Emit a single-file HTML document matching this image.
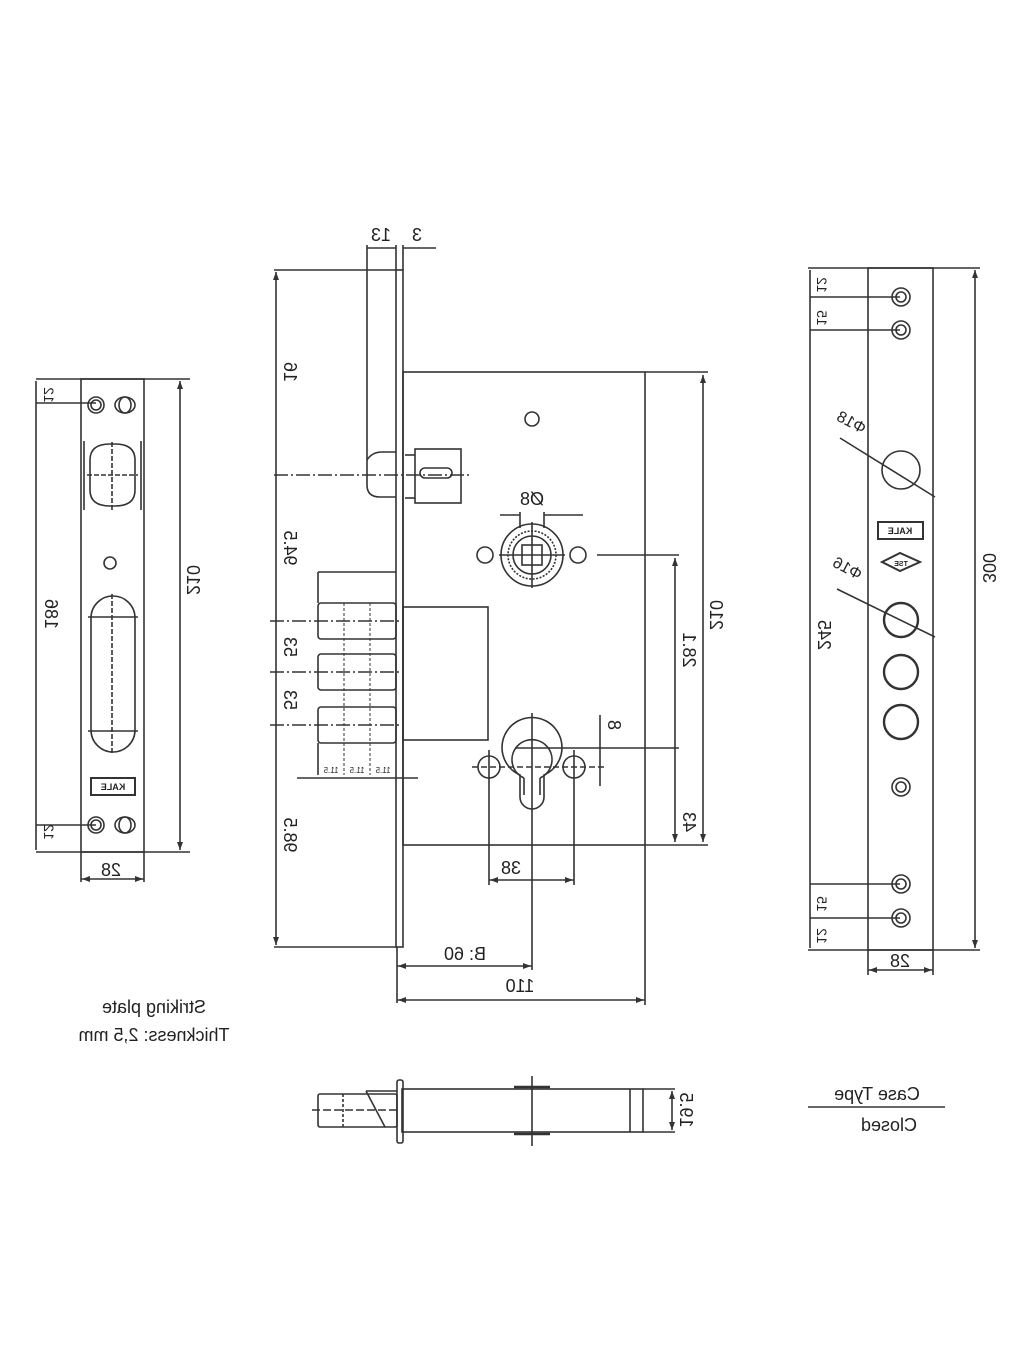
<!DOCTYPE html>
<html><head><meta charset="utf-8"><style>
html,body{margin:0;padding:0;background:#fff;}
svg{display:block;}
text{font-family:"Liberation Sans",sans-serif;fill:#222;}
</style></head><body>
<svg width="1024" height="1365" viewBox="0 0 1024 1365" xmlns="http://www.w3.org/2000/svg">
<g fill="none" stroke="#333" stroke-width="1.6">
<rect x="396" y="270" width="7" height="677"/>
<rect x="403" y="372" width="242" height="473"/>
<line x1="645" y1="372" x2="708" y2="372"/>
<line x1="645" y1="845" x2="708" y2="845"/>
<line x1="703" y1="375" x2="703" y2="842"/>
<line x1="645" y1="845" x2="645" y2="1005"/>
<path d="M367 270 V485 Q367 497 380 497 H396"/>
<path d="M367 460 Q372 452 382 452 H396"/>
<rect x="415" y="449" width="46" height="54"/>
<line x1="405" y1="455" x2="415" y2="455"/><line x1="405" y1="498" x2="415" y2="498"/>
<rect x="420" y="468" width="32" height="10" rx="5"/>
<line x1="274" y1="475" x2="470" y2="475" stroke-dasharray="14 3 2 3"/>
<line x1="367" y1="245" x2="367" y2="270"/><line x1="396" y1="245" x2="396" y2="270"/><line x1="403" y1="245" x2="403" y2="270"/>
<line x1="367" y1="248" x2="396" y2="248"/><line x1="403" y1="248" x2="436" y2="248"/>
<line x1="274" y1="270" x2="396" y2="270"/>
<line x1="274" y1="947" x2="396" y2="947"/>
<line x1="276" y1="272" x2="276" y2="945"/>
<line x1="270" y1="621" x2="400" y2="621" stroke-dasharray="14 3 2 3"/>
<line x1="270" y1="672" x2="400" y2="672" stroke-dasharray="14 3 2 3"/>
<line x1="270" y1="725" x2="400" y2="725" stroke-dasharray="14 3 2 3"/>
<circle cx="532" cy="419" r="7"/>
<circle cx="532" cy="555" r="31"/>
<circle cx="532" cy="555" r="24" stroke-dasharray="2 1.5"/>
<circle cx="532" cy="555" r="19"/>
<rect x="522" y="545" width="20" height="20"/>
<line x1="532" y1="522" x2="532" y2="588"/><line x1="499" y1="555" x2="565" y2="555"/>
<circle cx="485" cy="555" r="8"/><circle cx="578" cy="555" r="8"/>
<line x1="520" y1="512" x2="520" y2="528"/><line x1="544" y1="512" x2="544" y2="528"/>
<line x1="500" y1="515" x2="520" y2="515"/><line x1="544" y1="515" x2="583" y2="515"/>
<line x1="597" y1="555" x2="679" y2="555"/>
<line x1="675" y1="558" x2="675" y2="842"/>
<line x1="318" y1="572" x2="396" y2="572"/>
<line x1="318" y1="572" x2="318" y2="603"/>
<rect x="318" y="603" width="78" height="36" rx="3"/>
<rect x="318" y="654" width="78" height="36" rx="3"/>
<rect x="318" y="707" width="78" height="36" rx="3"/>
<g stroke-dasharray="3 2" stroke-width="1"><line x1="344" y1="603" x2="344" y2="775"/><line x1="370" y1="603" x2="370" y2="775"/></g>
<line x1="318" y1="743" x2="318" y2="775"/>
<line x1="297" y1="778" x2="418" y2="778"/>
<rect x="403" y="607" width="85" height="133"/>
<path d="M520 797 V775 A30 30 0 1 1 544 775 V797 A12 12 0 0 1 520 797 Z"/>
<path d="M524 778 A20 20 0 1 1 540 778"/>
<line x1="524" y1="778" x2="524" y2="795"/><line x1="540" y1="778" x2="540" y2="795"/>
<line x1="532" y1="713" x2="532" y2="970"/>
<line x1="515" y1="748" x2="600" y2="748"/>
<circle cx="489" cy="767" r="11"/><circle cx="574" cy="767" r="11"/>
<line x1="472" y1="767" x2="605" y2="767" stroke-dasharray="6 3"/>
<line x1="489" y1="750" x2="489" y2="885"/><line x1="574" y1="750" x2="574" y2="885"/>
<line x1="600" y1="715" x2="600" y2="786"/>
<line x1="600" y1="748" x2="679" y2="748"/>
<line x1="489" y1="880" x2="574" y2="880"/>
<line x1="397" y1="947" x2="397" y2="1003"/>
<line x1="397" y1="966" x2="532" y2="966"/>
<line x1="397" y1="1000" x2="645" y2="1000"/>
<rect x="81" y="379" width="63" height="473"/>
<line x1="36" y1="379" x2="190" y2="379"/><line x1="36" y1="852" x2="190" y2="852"/>
<line x1="180" y1="381" x2="180" y2="850"/>
<line x1="36" y1="381" x2="36" y2="850"/>
<line x1="36" y1="403" x2="96" y2="403"/><line x1="36" y1="825" x2="96" y2="825"/>
<circle cx="96" cy="405" r="8"/><circle cx="96" cy="405" r="5"/>
<ellipse cx="125" cy="405" rx="10" ry="8"/><ellipse cx="125" cy="405" rx="6" ry="8"/>
<circle cx="96" cy="825" r="8"/><circle cx="96" cy="825" r="5"/>
<ellipse cx="125" cy="825" rx="10" ry="8"/><ellipse cx="125" cy="825" rx="6" ry="8"/>
<path d="M90 460 Q90 444 110 444 H115 Q135 444 135 460 V490 Q135 506 115 506 H110 Q90 506 90 490 Z"/>
<line x1="84" y1="441" x2="84" y2="510"/><line x1="141" y1="441" x2="141" y2="510"/>
<line x1="87" y1="475" x2="138" y2="475" stroke-dasharray="5 2"/>
<line x1="112" y1="442" x2="112" y2="510" stroke-dasharray="5 2"/>
<circle cx="110" cy="563" r="6"/>
<path d="M91 618 A22 22 0 0 1 135 618 V730 A22 22 0 0 1 91 730 Z"/>
<line x1="88" y1="617" x2="138" y2="617"/><line x1="88" y1="731" x2="138" y2="731"/>
<line x1="112" y1="594" x2="112" y2="754" stroke-dasharray="5 2"/>
<rect x="91" y="778" width="44" height="17" stroke-width="2"/>
<line x1="81" y1="852" x2="81" y2="882"/><line x1="144" y1="852" x2="144" y2="882"/>
<line x1="81" y1="879" x2="144" y2="879"/>
<rect x="868" y="268" width="65" height="682"/>
<line x1="808" y1="268" x2="980" y2="268"/><line x1="808" y1="950" x2="980" y2="950"/>
<line x1="975" y1="270" x2="975" y2="948"/>
<line x1="810" y1="270" x2="810" y2="948"/>
<line x1="810" y1="297" x2="900" y2="297"/><line x1="810" y1="330" x2="900" y2="330"/>
<line x1="810" y1="884" x2="900" y2="884"/><line x1="810" y1="918" x2="900" y2="918"/>
<g>
<circle cx="901" cy="297" r="9"/><circle cx="901" cy="297" r="5"/>
<circle cx="901" cy="330" r="9"/><circle cx="901" cy="330" r="5"/>
<circle cx="901" cy="787" r="9"/><circle cx="901" cy="787" r="5"/>
<circle cx="901" cy="884" r="9"/><circle cx="901" cy="884" r="5"/>
<circle cx="901" cy="918" r="9"/><circle cx="901" cy="918" r="5"/>
<circle cx="901" cy="470" r="19"/>
<circle cx="901" cy="620" r="17" stroke-width="2.4"/>
<circle cx="901" cy="672" r="17" stroke-width="2.4"/>
<circle cx="901" cy="722" r="17" stroke-width="2.4"/>
</g>
<line x1="840" y1="438" x2="935" y2="497"/>
<line x1="837" y1="589" x2="935" y2="637"/>
<rect x="878" y="522" width="45" height="17" stroke-width="2"/>
<path d="M882 562 L900 553 L920 562 L900 571 Z" stroke-width="2"/>
<line x1="868" y1="950" x2="868" y2="975"/><line x1="933" y1="950" x2="933" y2="975"/>
<line x1="868" y1="970" x2="933" y2="970"/>
<rect x="402" y="1089" width="241" height="43"/>
<rect x="397" y="1080" width="6" height="63" rx="2"/>
<line x1="630" y1="1089" x2="630" y2="1132"/>
<line x1="643" y1="1089" x2="675" y2="1089"/><line x1="643" y1="1132" x2="675" y2="1132"/>
<line x1="672" y1="1091" x2="672" y2="1130"/>
<rect x="318" y="1094" width="79" height="33" rx="2"/>
<line x1="366" y1="1091" x2="397" y2="1091"/>
<line x1="366" y1="1091" x2="385" y2="1127"/>
<line x1="312" y1="1110" x2="400" y2="1110" stroke-dasharray="8 3"/>
<line x1="343" y1="1094" x2="343" y2="1127" stroke-dasharray="3 2"/>
<line x1="532" y1="1076" x2="532" y2="1146"/>
<line x1="514" y1="1087" x2="550" y2="1087" stroke-width="2.5"/>
<line x1="514" y1="1134" x2="550" y2="1134" stroke-width="2.5"/>
<line x1="808" y1="1107" x2="945" y2="1107"/>
</g>
<g fill="#333">
<path d="M276 272 l-3 8 h6z"/><path d="M276 945 l-3 -8 h6z"/>
<path d="M703 375 l-3 8 h6z"/><path d="M703 842 l-3 -8 h6z"/>
<path d="M675 558 l-3 8 h6z"/><path d="M675 842 l-3 -8 h6z"/>
<path d="M180 381 l-3 8 h6z"/><path d="M180 850 l-3 -8 h6z"/>
<path d="M975 270 l-3 8 h6z"/><path d="M975 948 l-3 -8 h6z"/>
<path d="M398 1000 l8 -3 v6z"/><path d="M644 1000 l-8 -3 v6z"/>
<path d="M398 966 l8 -3 v6z"/><path d="M531 966 l-8 -3 v6z"/>
<path d="M490 880 l8 -3 v6z"/><path d="M573 880 l-8 -3 v6z"/>
<path d="M82 879 l8 -3 v6z"/><path d="M143 879 l-8 -3 v6z"/>
<path d="M869 970 l8 -3 v6z"/><path d="M932 970 l-8 -3 v6z"/>
<path d="M672 1091 l-3 8 h6z"/><path d="M672 1130 l-3 -8 h6z"/>
</g>
<g font-size="18" text-anchor="middle">
<text transform="translate(381,241) scale(-1,1)">13</text>
<text transform="translate(417,241) scale(-1,1)">3</text>
<text transform="translate(532,505) scale(-1,1)">Ø8</text>
<text transform="translate(511,874) scale(-1,1)">38</text>
<text transform="translate(465,960) scale(-1,1)">B: 60</text>
<text transform="translate(520,992) scale(-1,1)">110</text>
<text transform="translate(111,876) scale(-1,1)">28</text>
<text transform="translate(900,967) scale(-1,1)">28</text>
<text transform="translate(154,1013) scale(-1,1)">Striking plate</text>
<text transform="translate(154,1041) scale(-1,1)">Thickness: 2,5 mm</text>
<text transform="translate(877,1100) scale(-1,1)">Case Type</text>
<text transform="translate(889,1131) scale(-1,1)">Closed</text>
<g>
<text transform="translate(284,372) scale(-1,1) rotate(-90)">16</text>
<text transform="translate(284,548) scale(-1,1) rotate(-90)">94.5</text>
<text transform="translate(284,647) scale(-1,1) rotate(-90)">53</text>
<text transform="translate(284,700) scale(-1,1) rotate(-90)">53</text>
<text transform="translate(284,835) scale(-1,1) rotate(-90)">98.5</text>
<text transform="translate(710,615) scale(-1,1) rotate(-90)">210</text>
<text transform="translate(683,650) scale(-1,1) rotate(-90)">28.1</text>
<text transform="translate(683,822) scale(-1,1) rotate(-90)">43</text>
<text transform="translate(608,725) scale(-1,1) rotate(-90)">8</text>
<text transform="translate(45,614) scale(-1,1) rotate(-90)">186</text>
<text transform="translate(187,580) scale(-1,1) rotate(-90)">210</text>
<text transform="translate(44,395) scale(-1,1) rotate(-90)" font-size="14">12</text>
<text transform="translate(44,832) scale(-1,1) rotate(-90)" font-size="14">12</text>
<text transform="translate(983,568) scale(-1,1) rotate(-90)">300</text>
<text transform="translate(818,635) scale(-1,1) rotate(-90)">245</text>
<text transform="translate(817,285) scale(-1,1) rotate(-90)" font-size="14">12</text>
<text transform="translate(817,318) scale(-1,1) rotate(-90)" font-size="14">15</text>
<text transform="translate(817,904) scale(-1,1) rotate(-90)" font-size="14">15</text>
<text transform="translate(817,936) scale(-1,1) rotate(-90)" font-size="14">12</text>
<text transform="translate(680,1110) scale(-1,1) rotate(-90)">19.5</text>
</g>
<text transform="translate(849,427) scale(-1,1) rotate(-28)" font-size="16">Φ18</text>
<text transform="translate(845,573) scale(-1,1) rotate(-28)" font-size="16">Φ16</text>
<g font-size="8">
<text transform="translate(331,773) scale(-1,1)">11.5</text>
<text transform="translate(357,773) scale(-1,1)">11.5</text>
<text transform="translate(383,773) scale(-1,1)">11.5</text>
</g>
<g font-size="9" font-weight="bold">
<text transform="translate(113,790) scale(-1,1)">KALE</text>
<text transform="translate(900,534) scale(-1,1)">KALE</text>
<text transform="translate(901,566) scale(-1,1)" font-size="7">TSE</text>
</g>
</g>
</svg>
</body></html>
